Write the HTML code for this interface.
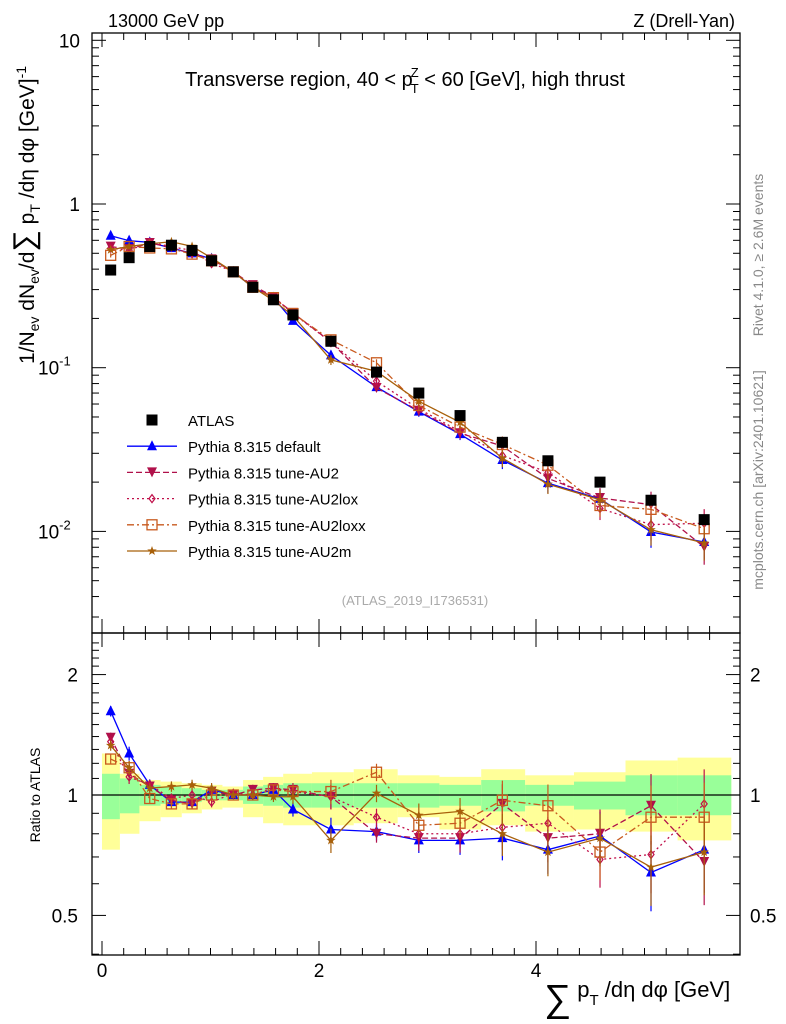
<!DOCTYPE html>
<html><head><meta charset="utf-8"><style>
body{margin:0;background:#fff}
svg{display:block;font-family:"Liberation Sans",sans-serif}
</style></head><body>
<svg id="c" width="786" height="1024" viewBox="0 0 786 1024" xmlns="http://www.w3.org/2000/svg">
<rect x="0" y="0" width="786" height="1024" fill="#fff"/>
<g id="bands"></g><g id="grid"></g><g id="series"></g>
<rect x="92" y="33" width="648" height="600" fill="none" stroke="#000" stroke-width="1.3"/>
<rect x="92" y="633" width="648" height="322" fill="none" stroke="#000" stroke-width="1.3"/>
<text x="108" y="27" font-size="18">13000 GeV pp</text>
<text x="735" y="27" font-size="18" text-anchor="end">Z (Drell-Yan)</text>
<text x="405" y="86" font-size="20" text-anchor="middle">Transverse region, 40 &lt; p<tspan font-size="13" dy="-9" dx="-2">Z</tspan><tspan font-size="13" dy="16" dx="-8">T</tspan><tspan dy="-7"> &lt; 60 [GeV], high thrust</tspan></text>
<text x="415" y="605" font-size="13" fill="#aaa" text-anchor="middle">(ATLAS_2019_I1736531)</text>
<text transform="translate(763,255) rotate(-90)" font-size="14" fill="#888" text-anchor="middle">Rivet 4.1.0, ≥ 2.6M events</text>
<text transform="translate(763,480) rotate(-90)" font-size="14" fill="#888" text-anchor="middle">mcplots.cern.ch [arXiv:2401.10621]</text>
<text transform="translate(34,215) rotate(-90)" font-size="21" text-anchor="middle">1/N<tspan font-size="14" dy="5">ev</tspan><tspan dy="-5"> dN</tspan><tspan font-size="14" dy="5">ev</tspan><tspan dy="-5">/d</tspan><tspan font-size="30">∑</tspan><tspan> p</tspan><tspan font-size="14" dy="6">T</tspan><tspan dy="-6"> /dη dφ  [GeV]</tspan><tspan font-size="14" dy="-8">-1</tspan></text>
<text transform="translate(40,795) rotate(-90)" font-size="14" text-anchor="middle">Ratio to ATLAS</text>
<text x="544" y="1003" font-size="22"><tspan font-size="38" dy="8">∑</tspan><tspan dy="-14"> p</tspan><tspan font-size="15" dy="8">T</tspan><tspan dy="-8"> /dη dφ [GeV]</tspan></text>
<g id="legend"></g>
</svg>
<script>
const xs=[0.08,0.25,0.44,0.64,0.83,1.01,1.21,1.39,1.58,1.76,2.11,2.53,2.92,3.30,3.69,4.11,4.59,5.06,5.55];
const atlas=[0.395,0.47,0.55,0.56,0.52,0.45,0.385,0.31,0.26,0.21,0.145,0.094,0.070,0.051,0.035,0.027,0.020,0.0155,0.0118];
const rDefault=[1.62,1.27,1.06,0.96,0.96,1.03,1.0,1.0,1.03,0.92,0.82,0.81,0.77,0.77,0.78,0.73,0.79,0.64,0.73];
const rAU2=[1.39,1.13,1.05,0.97,0.95,1.02,1.0,1.03,1.04,1.03,0.99,0.80,0.78,0.78,0.95,0.78,0.80,0.94,0.68];
const rAU2lox=[1.36,1.11,1.06,0.98,1.0,0.96,1.01,1.0,1.04,1.02,0.99,0.88,0.80,0.80,0.83,0.85,0.69,0.71,0.95];
const rAU2loxx=[1.23,1.17,0.98,0.95,0.95,1.0,1.0,1.0,1.03,1.02,1.02,1.14,0.84,0.85,0.97,0.94,0.72,0.88,0.88];
const rAU2m=[1.33,1.17,1.04,1.05,1.06,1.04,1.0,1.0,0.99,0.99,0.77,1.01,0.89,0.91,0.80,0.72,0.78,0.66,0.72];
const relErr=[0.03,0.04,0.03,0.03,0.03,0.03,0.02,0.03,0.03,0.04,0.07,0.05,0.07,0.08,0.12,0.13,0.15,0.2,0.22];
const yellowUp=[1.27,1.13,1.09,1.08,1.07,1.06,1.05,1.09,1.11,1.13,1.14,1.16,1.12,1.11,1.16,1.12,1.14,1.22,1.24];
const yellowDn=[0.73,0.8,0.86,0.88,0.9,0.92,0.93,0.88,0.85,0.84,0.84,0.85,0.88,0.82,0.84,0.81,0.82,0.81,0.77];
const greenUp=[1.13,1.1,1.06,1.05,1.04,1.03,1.03,1.05,1.06,1.07,1.07,1.07,1.07,1.06,1.09,1.06,1.08,1.12,1.12];
const greenDn=[0.87,0.9,0.94,0.95,0.96,0.97,0.97,0.95,0.94,0.93,0.93,0.93,0.93,0.94,0.91,0.94,0.92,0.89,0.89];
const xTicks=[0,2,4];
const NS="http://www.w3.org/2000/svg";
const X=v=>102+v*108.5;
const Y=v=>204-Math.log10(v)*163.7;
const R=v=>795-Math.log10(v)*400;
function mk(tag,at,parent){const e=document.createElementNS(NS,tag);for(const k in at)e.setAttribute(k,at[k]);(parent||document.getElementById('series')).appendChild(e);return e;}
const edges=[0];for(let i=0;i<xs.length-1;i++)edges.push((xs[i]+xs[i+1])/2);edges.push(5.8);
const bg=document.getElementById('bands');
for(let i=0;i<xs.length;i++){
 let e=mk('rect',{x:X(edges[i]),y:R(yellowUp[i]),width:X(edges[i+1])-X(edges[i]),height:R(yellowDn[i])-R(yellowUp[i]),fill:'#ffff99'},bg);
 
 
 e=mk('rect',{x:X(edges[i]),y:R(greenUp[i]),width:X(edges[i+1])-X(edges[i]),height:R(greenDn[i])-R(greenUp[i]),fill:'#99ff99'},bg);
 
 
}
const g=document.getElementById('grid');
mk('line',{x1:92,x2:740,y1:R(1),y2:R(1),stroke:'#000','stroke-width':1.3},g);
for(let d=-3;d<=1;d++){for(let m=1;m<10;m++){const v=m*Math.pow(10,d);const y=Y(v);if(y<33||y>633)continue;const L=m==1?14:7;
 mk('line',{x1:92,x2:92+L,y1:y,y2:y,stroke:'#000'},g);mk('line',{x1:740,x2:740-L,y1:y,y2:y,stroke:'#000'},g);}}
[[10,'10'],[1,'1']].forEach(([v,t])=>{const e=mk('text',{x:80,y:Y(v)+7,'font-size':19,'text-anchor':'end'},g);e.textContent=t;});
[[0.1,'-1'],[0.01,'-2']].forEach(([v,t])=>{const e=mk('text',{x:38,y:Y(v)+7,'font-size':19},g);e.innerHTML='10<tspan font-size="13" dy="-9">'+t+'</tspan>';});
for(let v=0.4;v<=2.5;v+=0.1){const y=R(v);if(y<633||y>955)continue;const maj=[0.5,1,2].some(q=>Math.abs(q-v)<1e-6);const L=maj?14:7;
 mk('line',{x1:92,x2:92+L,y1:y,y2:y,stroke:'#000'},g);mk('line',{x1:740,x2:740-L,y1:y,y2:y,stroke:'#000'},g);}
[[2,'2'],[1,'1'],[0.5,'0.5']].forEach(([v,t])=>{let e=mk('text',{x:78,y:R(v)+7,'font-size':19,'text-anchor':'end'},g);e.textContent=t;
 e=mk('text',{x:750,y:R(v)+7,'font-size':19},g);e.textContent=t;});
for(let v=0;v<=5.8;v+=0.2){const x=X(v);const maj=Math.abs(v-Math.round(v/2)*2)<1e-6;const L=maj?14:7;
 [[33,1],[633,-1],[633,1],[955,-1]].forEach(([y0,s])=>mk('line',{x1:x,x2:x,y1:y0,y2:y0+s*L,stroke:'#000'},g));}
xTicks.forEach(v=>{const e=mk('text',{x:X(v),y:977,'font-size':19,'text-anchor':'middle'},g);e.textContent=v;});

function marker(t,x,y,c,p){p=p||document.getElementById('series');const s=5;
 if(t=='tu')return mk('polygon',{points:`${x},${y-s-1} ${x-s},${y+s-1} ${x+s},${y+s-1}`,fill:c},p);
 if(t=='td')return mk('polygon',{points:`${x},${y+s} ${x-s},${y-s} ${x+s},${y-s}`,fill:c},p);
 if(t=='di')return mk('polygon',{points:`${x},${y-4} ${x-3},${y} ${x},${y+4} ${x+3},${y}`,fill:'none',stroke:c,'stroke-width':1.2},p);
 if(t=='sq')return mk('rect',{x:x-5,y:y-5,width:10,height:10,fill:'none',stroke:c,'stroke-width':1.3},p);
 if(t=='st'){let pts='';for(let k=0;k<10;k++){const a=-Math.PI/2+k*Math.PI/5,r=k%2?2:5;pts+=(x+r*Math.cos(a))+','+(y+r*Math.sin(a))+' ';}return mk('polygon',{points:pts,fill:c},p);}
 if(t=='bs')return mk('rect',{x:x-5.5,y:y-5.5,width:11,height:11,fill:'#000'},p);
}
const models=[
 {name:'Pythia 8.315 default',r:rDefault,c:'#0000ff',m:'tu',d:'',id:'default'},
 {name:'Pythia 8.315 tune-AU2',r:rAU2,c:'#b0104a',m:'td',d:'6,3',id:'au2'},
 {name:'Pythia 8.315 tune-AU2lox',r:rAU2lox,c:'#c0104a',m:'di',d:'2,3',id:'au2lox'},
 {name:'Pythia 8.315 tune-AU2loxx',r:rAU2loxx,c:'#c85a1e',m:'sq',d:'7,3,2,3',id:'au2loxx'},
 {name:'Pythia 8.315 tune-AU2m',r:rAU2m,c:'#a8600a',m:'st',d:'',id:'au2m'}];
models.forEach(M=>{
 const top=xs.map((x,i)=>[X(x),Y(atlas[i]*M.r[i])]);
 const bot=xs.map((x,i)=>[X(x),R(M.r[i])]);
 let e=mk('polyline',{points:top.map(p=>p.join(',')).join(' '),fill:'none',stroke:M.c,'stroke-width':1.3,'stroke-dasharray':M.d});
 
 
 e=mk('polyline',{points:bot.map(p=>p.join(',')).join(' '),fill:'none',stroke:M.c,'stroke-width':1.3,'stroke-dasharray':M.d});
 
 
 xs.forEach((x,i)=>{const v=atlas[i]*M.r[i],er=relErr[i];
  mk('line',{x1:X(x),x2:X(x),y1:Y(v*(1+er)),y2:Y(v*(1-er)),stroke:M.c,'stroke-width':1.2});
  mk('line',{x1:X(x),x2:X(x),y1:R(M.r[i]*(1+er)),y2:R(M.r[i]*(1-er)),stroke:M.c,'stroke-width':1.2});
  let p=marker(M.m,X(x),Y(v),M.c);
  p=marker(M.m,X(x),R(M.r[i]),M.c);
 });
});
xs.forEach((x,i)=>{const p=marker('bs',X(x),Y(atlas[i]),'#000');});
const lg=document.getElementById('legend');
const items=[{name:'ATLAS',m:'bs',c:'#000',d:null}].concat(models);
items.forEach((M,k)=>{const y=420+k*26.2;
 if(M.d!==null)mk('line',{x1:127,x2:177,y1:y,y2:y,stroke:M.c,'stroke-width':1.3,'stroke-dasharray':M.d},lg);
 marker(M.m,152,y,M.c,lg);
 const t=mk('text',{x:188,y:y+6,'font-size':15},lg);t.textContent=M.name;
 
 
});
</script>
</body></html>
